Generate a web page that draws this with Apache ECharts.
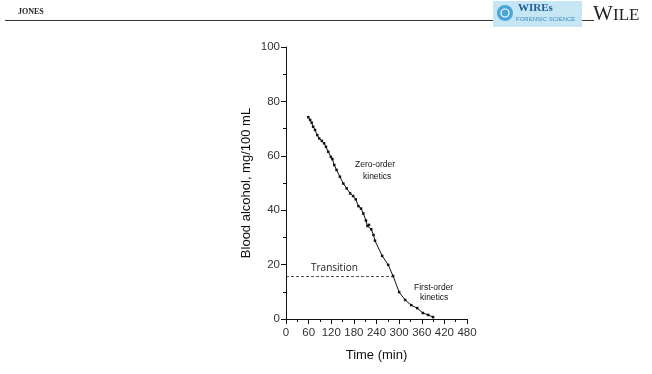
<!DOCTYPE html>
<html><head><meta charset="utf-8">
<script src="https://cdn.jsdelivr.net/npm/echarts@6/dist/echarts.min.js"></script>
<style>html,body{margin:0;padding:0;background:#fff}#c{width:652px;height:374px}</style>
</head><body><div id="c"></div>
<script>
// Data
const timeMin = [59, 64, 68, 72, 77, 83, 88, 95, 101, 106, 112, 119, 123, 128, 134, 143, 152, 161, 170, 178, 185, 192, 199, 205, 212, 216, 220, 226, 232, 236, 255, 271, 284, 300, 316, 332, 348, 363, 377, 390];
const bac     = [74.2, 73.2, 72.2, 70.7, 69.5, 67.6, 66.4, 65.5, 64.6, 63.3, 61.5, 59.6, 58.8, 56.6, 54.8, 52.3, 49.8, 48.0, 46.2, 45.2, 44.0, 41.5, 40.6, 38.8, 36.2, 34.2, 34.6, 33.0, 30.9, 28.8, 23.2, 19.9, 15.8, 9.9, 7.0, 5.1, 4.0, 2.2, 1.5, 0.7];
const transitionX = [0, 283];
const transitionLevel = 15.6;
const xTicks = [0, 60, 120, 180, 240, 300, 360, 420, 480];
const yTicks = [0, 20, 40, 60, 80, 100];

const chart = echarts.init(document.getElementById('c'), null, {renderer: 'canvas'});
const font = '"Liberation Sans", Arial, sans-serif';
chart.setOption({
  animation: false,
  backgroundColor: '#fff',
  grid: {left: 286, right: 185, top: 47, bottom: 55},
  xAxis: {
    type: 'value', min: xTicks[0], max: xTicks[xTicks.length-1], interval: 60,
    name: 'Time (min)', nameLocation: 'middle', nameGap: 30,
    nameTextStyle: {fontFamily: font, fontSize: 13, color: '#111'},
    axisLine: {show: true, onZero: false, lineStyle: {color: '#111', width: 1}},
    axisTick: {show: true, length: 5, lineStyle: {color: '#111'}},
    minorTick: {show: true, splitNumber: 2, length: 3, lineStyle: {color: '#111'}},
    axisLabel: {fontFamily: font, fontSize: 11.5, color: '#333', margin: 8},
    splitLine: {show: false}
  },
  yAxis: {
    type: 'value', min: yTicks[0], max: yTicks[yTicks.length-1], interval: 20,
    name: 'Blood alcohol, mg/100 mL', nameLocation: 'middle', nameGap: 33,
    nameTextStyle: {fontFamily: font, fontSize: 13, color: '#111'},
    axisLine: {show: true, lineStyle: {color: '#111', width: 1}},
    axisTick: {show: true, length: 5, lineStyle: {color: '#111'}},
    minorTick: {show: true, splitNumber: 2, length: 3, lineStyle: {color: '#111'}},
    axisLabel: {fontFamily: font, fontSize: 11.5, color: '#333', margin: 6},
    splitLine: {show: false}
  },
  series: [
    {
      type: 'line', data: timeMin.map((t, i) => [t, bac[i]]),
      symbol: 'rect', symbolSize: 2.5, showSymbol: true,
      itemStyle: {color: '#111'}, lineStyle: {color: '#111', width: 1}
    },
    {
      type: 'line', data: transitionX.map(t => [t, transitionLevel]),
      symbol: 'none', lineStyle: {color: '#222', width: 0.8, type: [3, 2]}
    }
  ],
  graphic: [
    {type: 'text', left: 18, top: 8, style: {text: 'JONES', font: 'bold 8px "Liberation Serif", serif', fill: '#222'}},
    {type: 'line', shape: {x1: 5, y1: 20.5, x2: 494, y2: 20.5}, style: {stroke: '#333', lineWidth: 1}},
    {type: 'rect', shape: {x: 493, y: 1, width: 89, height: 26}, style: {fill: '#c7e6f3'}},
    {type: 'circle', shape: {cx: 505, cy: 13, r: 8}, style: {fill: '#4aa6d6'}},
    {type: 'circle', shape: {cx: 505, cy: 13, r: 4}, style: {fill: 'none', stroke: '#fff', lineWidth: 1.2}},
    {type: 'text', left: 518, top: 3, style: {text: 'WIREs', font: 'bold 11px "Liberation Serif", serif', fill: '#1f5e9a'}},
    {type: 'text', left: 516, top: 16, style: {text: 'FORENSIC SCIENCE', font: '6px "Liberation Sans", sans-serif', fill: '#3a8cc4'}},
    {type: 'line', shape: {x1: 582, y1: 20.5, x2: 594, y2: 20.5}, style: {stroke: '#333', lineWidth: 1}},
    {type: 'text', left: 593, top: 4, style: {text: 'W', font: '21px "Liberation Serif", serif', fill: '#222'}},
    {type: 'text', left: 613, top: 7, style: {text: 'ILE', font: '17px "Liberation Serif", serif', fill: '#222'}},
    {type: 'text', left: 355, top: 160, style: {text: 'Zero-order', font: '8.5px "Liberation Sans", sans-serif', fill: '#111'}},
    {type: 'text', left: 363, top: 172, style: {text: 'kinetics', font: '8.5px "Liberation Sans", sans-serif', fill: '#111'}},
    {type: 'text', left: 414, top: 283, style: {text: 'First-order', font: '8.5px "Liberation Sans", sans-serif', fill: '#111'}},
    {type: 'text', left: 420, top: 293, style: {text: 'kinetics', font: '8.5px "Liberation Sans", sans-serif', fill: '#111'}},
    {type: 'text', left: 311, top: 263, style: {text: 'Transition', font: '10px "Open Sans", sans-serif', fill: '#222'}}
  ]
});
</script></body></html>
